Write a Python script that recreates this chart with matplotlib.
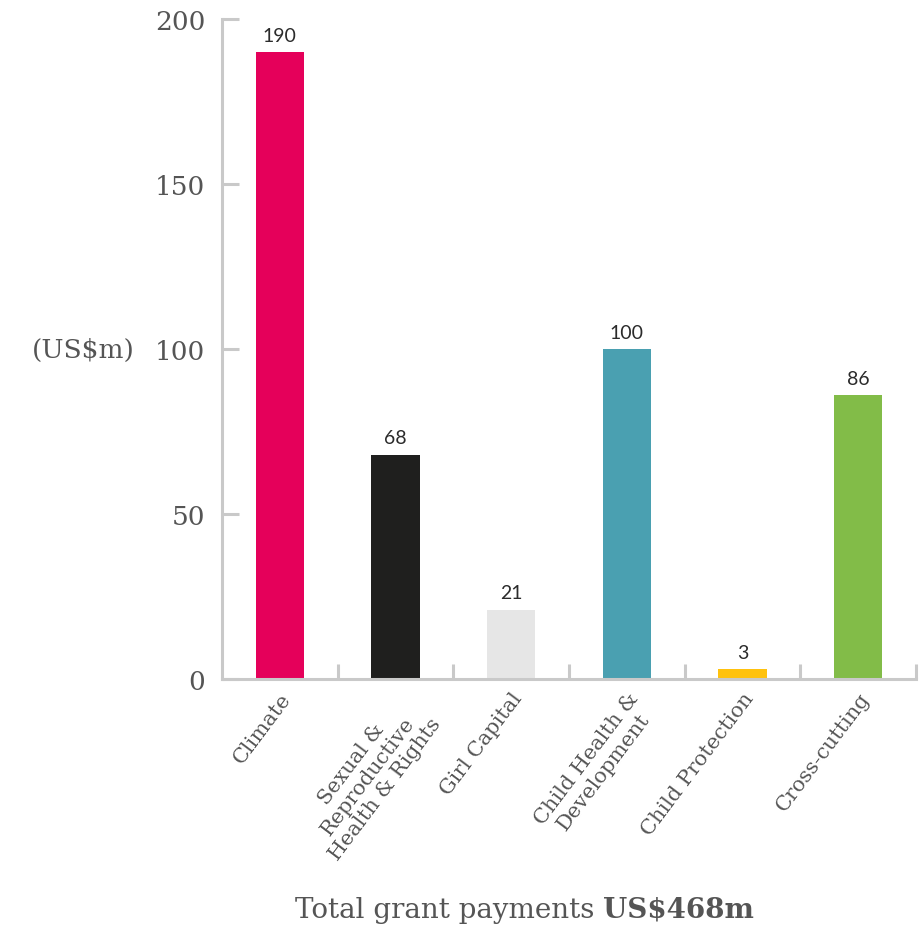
import numpy as np
import matplotlib
matplotlib.use("Agg")
import matplotlib.pyplot as plt
from matplotlib.ticker import FixedLocator

categories = ["Climate", "Sexual &\nReproductive\nHealth & Rights", "Girl Capital",
              "Child Health &\nDevelopment", "Child Protection", "Cross-cutting"]
values = [190, 68, 21, 100, 3, 86]
colors = ["#E5005A", "#1F1F1E", "#E6E6E6", "#4AA0B1", "#FFC20E", "#82BC48"]
yticks = [0, 50, 100, 150, 200]

GREY = "#555555"
AXIS = "#C9C9C9"
SERIF = "DejaVu Serif"

fig = plt.figure(figsize=(9.22, 9.29), dpi=100)
ax = fig.add_axes([0.2408, 0.268, 0.7527, 0.7105])

x = np.arange(len(categories))
bars = ax.bar(x, values, width=0.42, color=colors, zorder=2)

for xi, v in zip(x, values):
    ax.annotate(str(v), (xi, v), xytext=(0, 6), textcoords="offset points",
                ha="center", va="bottom", fontsize=14, family="Lato", color="#2b2b2b")

ax.set_xlim(-0.5, len(categories) - 0.5)
ax.set_ylim(0, 200)

for s in ["top", "right"]:
    ax.spines[s].set_visible(False)
for s in ["left", "bottom"]:
    ax.spines[s].set_color(AXIS)
    ax.spines[s].set_linewidth(2.2)

ax.set_yticks(yticks)
ax.tick_params(axis="y", direction="in", length=12, width=2.2, color=AXIS,
               labelsize=19, labelcolor=GREY, pad=12)
for lab in ax.get_yticklabels():
    lab.set_family(SERIF)

ax.set_xticks(x)
ax.set_xticklabels(categories, rotation=53, ha="right", rotation_mode="anchor",
                   multialignment="center", linespacing=1.15,
                   family=SERIF, fontsize=15, color=GREY)
ax.tick_params(axis="x", which="major", length=0, pad=7)
ax.xaxis.set_minor_locator(FixedLocator(np.arange(0.5, len(categories), 1.0)))
ax.tick_params(axis="x", which="minor", direction="in", length=11, width=2.2, color=AXIS)

ax.text(-0.274, 0.5, "(US$m)", transform=ax.transAxes, ha="left", va="center",
        family=SERIF, fontsize=19, color=GREY)

t1 = fig.text(0.32, 0.012, "Total grant payments ", ha="left", va="baseline",
              family=SERIF, fontsize=20, color=GREY)
fig.canvas.draw()
ax.annotate("US$468m", xy=(1, 0), xycoords=t1, ha="left", va="bottom",
            family=SERIF, fontsize=20, color=GREY, fontweight="bold",
            annotation_clip=False)

fig.savefig("out.png", dpi=100)
